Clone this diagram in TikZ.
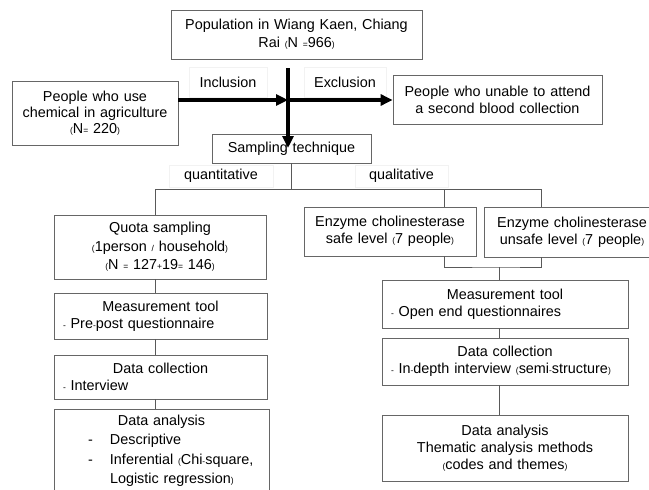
\documentclass[tikz,border=0pt]{standalone}
\usepackage{fontspec}
\setmainfont{Liberation Sans}
\usetikzlibrary{arrows.meta}
\newcommand{\sm}[1]{{\fontsize{8.5}{8.5}\selectfont#1}}
\begin{document}
\begin{tikzpicture}[
  x=1pt, y=-1pt,
  font=\fontsize{14.4}{17}\selectfont,
  bx/.style 2 args={draw=black!60, line width=0.8pt, align=center, inner xsep=3pt, inner ysep=0pt, text width=#1-6pt, minimum height=#2},
  lbl/.style 2 args={draw=black!5, line width=0.5pt, inner sep=0pt, minimum width=#1, minimum height=#2},
  ln/.style={draw=black!65, line width=0.8pt},
  bigarrow/.style={line width=3.5pt, -{Triangle[length=12pt,width=11pt]}},
]
\useasboundingbox (0,0) rectangle (649,490);
\clip (0,0) rectangle (649,490);
% top part
\node[bx={251pt}{49pt}, font=\fontsize{14.4}{18}\selectfont] (pop) at (296.5,34.5) {Population in Wiang Kaen, Chiang\\Rai \sm{(}N \sm{=}966\sm{)}};
\node[bx={166pt}{64pt}, font=\fontsize{14.4}{16}\selectfont] (chem) at (95,113) {People who use\\chemical in agriculture\\\sm{(}N\sm{=} 220\sm{)}};
\node[bx={209pt}{49pt}] (excl) at (497.5,99.5) {People who unable to attend\\a second blood collection};
\node[lbl={78pt}{30pt}] (incl) at (228,82) {Inclusion};
\node[lbl={82pt}{30pt}] (exlbl) at (345,82) {Exclusion};
\node[bx={159pt}{29pt}] (samp) at (291.5,148.5) {Sampling technique};
\node[lbl={104pt}{22pt}] (quant) at (221,176) {quantitative};
\node[lbl={93pt}{22pt}] (qual) at (401.5,176) {qualitative};
% quantitative branch
\node[bx={212pt}{64pt}, font=\fontsize{14.4}{18.5}\selectfont] (quota) at (160,247) {Quota sampling\\\sm{(}1person \sm{/} household\sm{)}\\\sm{(}N \sm{=} 127\sm{+}19\sm{=} 146\sm{)}};
\node[bx={213pt}{46pt}] (measL) at (160.5,316) {Measurement tool\\\makebox[\hsize][l]{\hspace*{6pt}\sm{-} Pre\sm{-}post questionnaire}};
\node[bx={213pt}{44pt}] (collL) at (160.5,377) {Data collection\\\makebox[\hsize][l]{\hspace*{6pt}\sm{-} Interview}};
\node[bx={215pt}{84pt}, font=\fontsize{14.4}{19.5}\selectfont] (anaL) at (161.5,451) {Data analysis\\\makebox[\hsize][l]{\hspace*{31pt}\makebox[22pt][l]{-}Descriptive}\\\makebox[\hsize][l]{\hspace*{31pt}\makebox[22pt][l]{-}Inferential \sm{(}Chi\sm{-}square,}\\\makebox[\hsize][l]{\hspace*{53pt}Logistic regression\sm{)}}};
% qualitative branch
\node[bx={172pt}{49pt}] (safe) at (390,231.5) {Enzyme cholinesterase\\safe level \sm{(}7 people\sm{)}};
\node[bx={176pt}{50pt}] (unsafe) at (572,232) {Enzyme cholinesterase\\unsafe level \sm{(}7 people\sm{)}};
\node[bx={246pt}{48pt}] (measR) at (505,304) {Measurement tool\\\makebox[\hsize][l]{\hspace*{6pt}\sm{-} Open end questionnaires}};
\node[bx={246pt}{47pt}] (collR) at (505,361.5) {Data collection\\\makebox[\hsize][l]{\hspace*{6pt}\sm{-} In\sm{-}depth interview \sm{(}semi\sm{-}structure\sm{)}}};
\node[bx={246pt}{66pt}] (anaR) at (505,448) {Data analysis\\Thematic analysis methods\\\sm{(}codes and themes\sm{)}};
% thick arrows
\coordinate (stem) at (288,68);
\coordinate (hub) at (288,100);
\coordinate (tip) at (288,148);
\draw[bigarrow] (stem) -- (tip);
\draw[bigarrow] (chem.east |- hub) -- (hub);
\draw[bigarrow] (hub) -- (excl.west |- hub);
% thin connectors
\coordinate (bL) at (155,189);
\coordinate (bS) at (444,189);
\coordinate (bU) at (541,189);
\coordinate (join) at (499,267);
\draw[ln] (samp.south) -- (samp.south |- bL);
\draw[ln] (bL) -- (bU);
\draw[ln] (bL) -- (bL |- quota.north);
\draw[ln] (bS) -- (bS |- safe.north);
\draw[ln] (bU) -- (bU |- unsafe.north);
\draw[ln] (bL |- quota.south) -- (bL |- measL.north);
\draw[ln] (bL |- measL.south) -- (bL |- collL.north);
\draw[ln] (bL |- collL.south) -- (bL |- anaL.north);
\draw[ln] (bS |- safe.south) |- (join) -| (bU |- unsafe.south);
\draw[ln] (join) -- (join |- measR.north);
\draw[ln] (join |- measR.south) -- (join |- collR.north);
\draw[ln] (join |- collR.south) -- (join |- anaR.north);
\end{tikzpicture}
\end{document}
